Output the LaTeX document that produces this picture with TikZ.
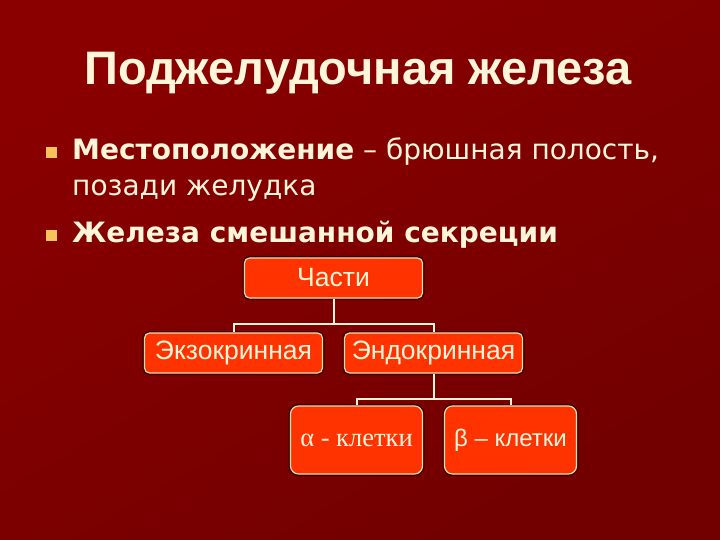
\documentclass[tikz,border=0pt]{standalone}
\usepackage{fontspec}
\usepackage{tikz}
\usetikzlibrary{positioning,trees}

\setmainfont{Liberation Sans}
\newfontfamily\arialfont{Liberation Sans}
\newfontfamily\tahomafont{DejaVu Sans}
\newfontfamily\romanfont{Liberation Serif}

\definecolor{bgtop}{HTML}{8A0000}
\definecolor{bgbot}{HTML}{720000}
\definecolor{cream}{HTML}{FFF6DA}
\definecolor{boxfill}{HTML}{FF3300}
\definecolor{boxline}{HTML}{FFD9B0}
\definecolor{bulletcol}{HTML}{F6C25A}
\definecolor{shadowcol}{HTML}{3A0000}

\tikzset{
	part/.style={draw=boxline, line width=1.2bp, fill=boxfill, rounded corners=5bp,
		text=cream, font=\arialfont\fontsize{26.5bp}{30bp}\selectfont,
		minimum width=178bp, minimum height=40bp, inner sep=0pt,
		preaction={draw=shadowcol, line width=4bp}},
	cell/.style={part, minimum width=132bp, minimum height=68bp, rounded corners=8bp,
		font=\arialfont\fontsize{24bp}{28bp}\selectfont},
	bullet/.style={fill=bulletcol, minimum size=11bp, inner sep=0pt},
	item/.style={anchor=base west, inner sep=0pt, text=cream,
		font=\tahomafont\fontsize{28bp}{32bp}\selectfont}
}

\begin{document}
\begin{tikzpicture}[x=1bp,y=-1bp]
		\useasboundingbox (0,0) rectangle (720,540);
		\shade[top color=bgtop, bottom color=bgbot, shading angle=30] (0,0) rectangle (720,540);

		% heading
		\node[text=cream, font=\arialfont\bfseries\fontsize{47bp}{54bp}\selectfont, anchor=base]
			(title) at (358,85) {Поджелудочная железа};

		% list
		\node[bullet] (b1) at (51.5,152.5) {};
		\node[item] (t1) at (72,160) {\textbf{Местоположение} – брюшная полость,};
		\node[item] (t2) at (72,196) {позади желудка};
		\node[bullet] (b2) at (51.5,235.5) {};
		\node[item] (t3) at (72,243) {\textbf{Железа смешанной секреции}};

		% scheme
		\begin{scope}[level 1/.style={sibling distance=200bp, level distance=75bp},
			level 2/.style={sibling distance=154bp, level distance=87bp},
			edge from parent/.style={draw=cream, line width=2bp},
			edge from parent path={(\tikzparentnode.south) -- ++(0,-25bp) -| (\tikzchildnode.north)}]
		\node[part] (parts) at (333.5,278) {Части}
		child {
			node[part] (exo) {Экзокринная}
		}
		child {
			node[part] (endo) {Эндокринная}
			child {
				node[cell] (alpha) {\romanfont\fontsize{26.5bp}{30bp}\selectfont α - клетки}
			}
			child {
				node[cell] (beta) {β – клетки}
			}
		};
		\end{scope}
\end{tikzpicture}
\end{document}
